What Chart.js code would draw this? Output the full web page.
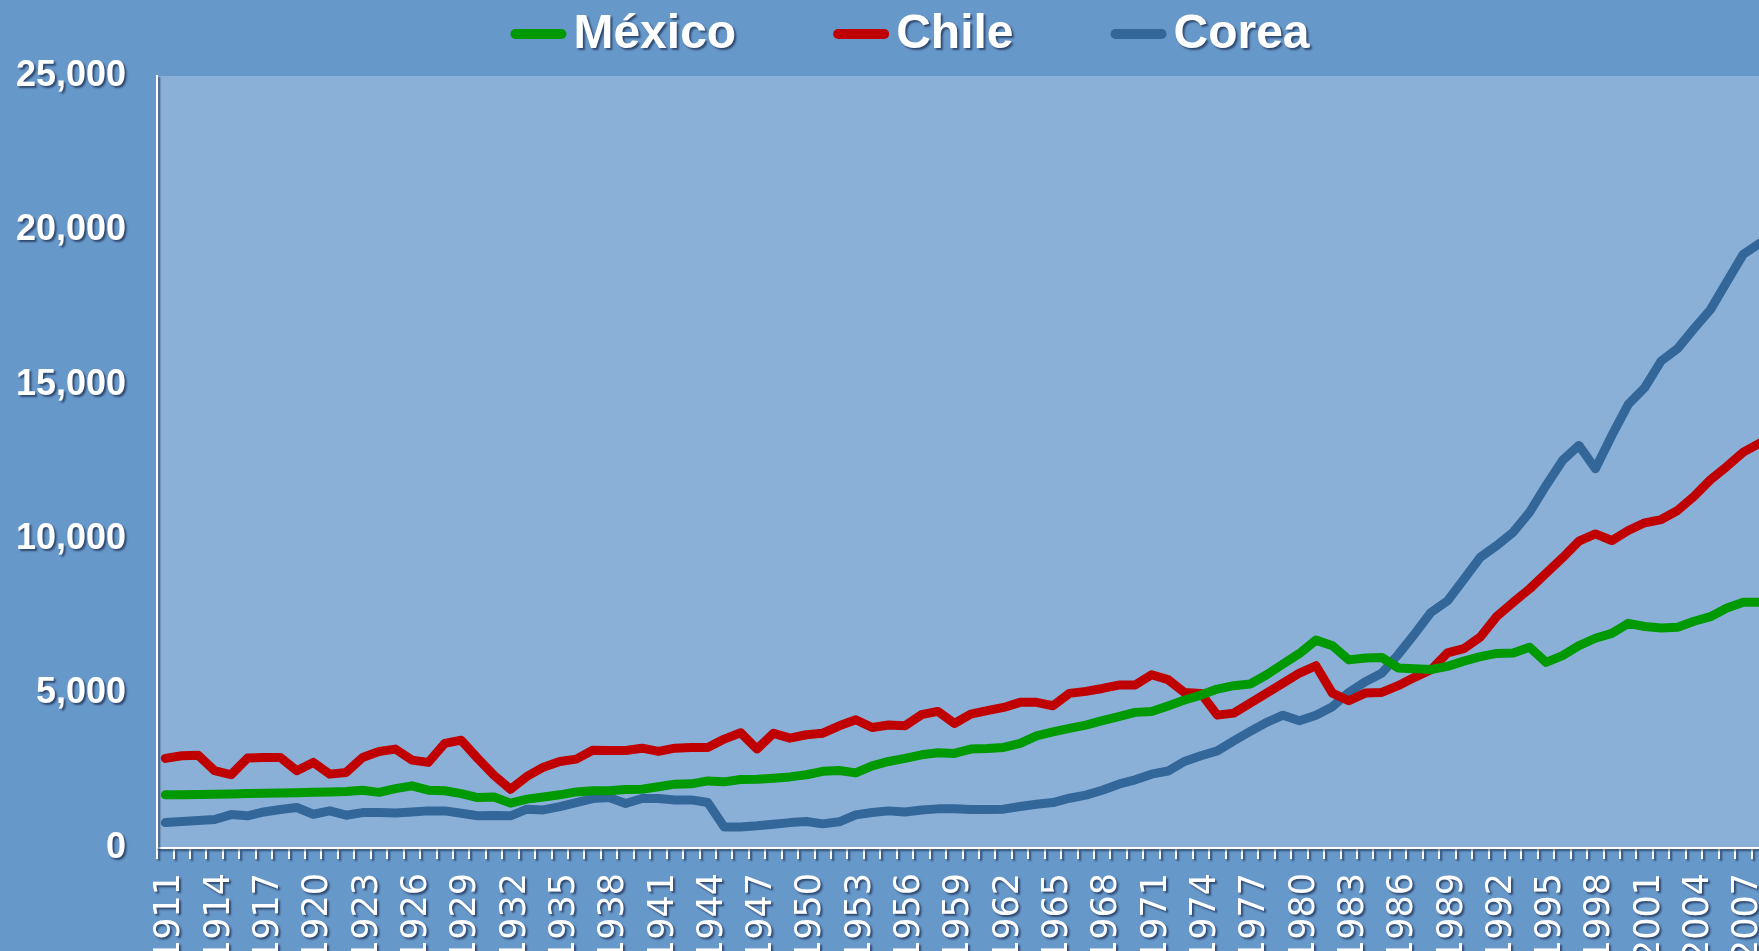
<!DOCTYPE html>
<html>
<head>
<meta charset="utf-8">
<script src="https://cdn.jsdelivr.net/npm/chart.js@4.4.1/dist/chart.umd.min.js"></script>
<style>
  html, body { margin: 0; padding: 0; overflow: hidden; background: #6798CA; }
  #wrap { position: absolute; left: 0; top: 0; width: 1816px; height: 980px; }
</style>
</head>
<body>
<div id="wrap"><canvas id="pibChart" width="1816" height="980"></canvas></div>
<script>
// ---- data (PIB per capita, 1911-2008) ----
const years = [];
for (let y = 1911; y <= 2008; y++) years.push(String(y));

const mexico = [
  1720, 1725, 1730, 1740, 1750, 1760, 1770, 1780, 1790,             // 1911-1919
  1805, 1815, 1825, 1870, 1800, 1920, 2010, 1870, 1850, 1760,       // 1920s
  1630, 1650, 1450, 1580, 1650, 1720, 1815, 1850, 1850, 1890,       // 1930s
  1900, 1980, 2065, 2075, 2170, 2140, 2215, 2225, 2260, 2300,       // 1940s
  2370, 2480, 2510, 2430, 2660, 2800, 2900, 3015, 3080, 3060,       // 1950s
  3200, 3220, 3255, 3385, 3630, 3760, 3870, 3980, 4120, 4250,       // 1960s
  4390, 4420, 4600, 4790, 4950, 5145, 5255, 5310, 5610, 5960,       // 1970s
  6300, 6730, 6550, 6090, 6150, 6170, 5830, 5800, 5780, 5880,       // 1980s
  6050, 6195, 6300, 6310, 6500, 6010, 6230, 6550, 6790, 6950,       // 1990s
  7275, 7170, 7125, 7145, 7340, 7490, 7770, 7955, 7960              // 2000-2008
];

const chile = [
  2900, 2985, 3005, 2500, 2370, 2910, 2930, 2930, 2500,
  2770, 2390, 2445, 2930, 3125, 3200, 2845, 2770, 3385, 3490,
  2900, 2350, 1900, 2315, 2615, 2800, 2875, 3165, 3155, 3155,
  3230, 3125, 3230, 3255, 3255, 3525, 3730, 3200, 3710, 3555,
  3665, 3715, 3955, 4150, 3900, 3980, 3955, 4315, 4420, 4030,
  4335, 4445, 4550, 4715, 4715, 4605, 5005, 5070, 5165, 5275,
  5275, 5610, 5450, 5035, 5005, 4300, 4365, 4690, 5015, 5340,
  5665, 5900, 5015, 4765, 5015, 5035, 5255, 5525, 5770, 6320,
  6455, 6830, 7500, 7955, 8390, 8895, 9395, 9935, 10170, 9955,
  10280, 10530, 10635, 10930, 11385, 11925, 12355, 12820, 13110
];

const corea = [
  820, 855, 885, 920, 1080, 1040, 1165, 1245, 1310,
  1090, 1200, 1060, 1145, 1145, 1135, 1165, 1200, 1200, 1125,
  1040, 1050, 1040, 1255, 1230, 1340, 1470, 1600, 1630, 1440,
  1600, 1600, 1555, 1555, 1470, 680, 680, 715, 770, 820,
  855, 780, 845, 1070, 1145, 1200, 1165, 1230, 1265, 1265,
  1245, 1245, 1255, 1340, 1415, 1470, 1610, 1710, 1870, 2065,
  2205, 2390, 2490, 2800, 2985, 3145, 3470, 3775, 4065, 4300,
  4120, 4300, 4575, 5035, 5385, 5655, 6260, 6930, 7630, 8000,
  8700, 9415, 9795, 10225, 10875, 11740, 12550, 13035, 12280, 13360,
  14365, 14905, 15770, 16170, 16820, 17435, 18335, 19230, 19580
];

const yTicks = [0, 5000, 10000, 15000, 20000, 25000];

const colors = {
  page: '#6798CA',
  plot: '#8BB0D8',
  green: '#009900',
  red: '#C00000',
  blue: '#336699',
  white: '#FFFFFF',
  shadow: 'rgba(10, 20, 50, 0.6)'
};

function setShadow(ctx) {
  ctx.shadowColor = colors.shadow;
  ctx.shadowOffsetX = 2;
  ctx.shadowOffsetY = 2;
  ctx.shadowBlur = 2;
}
function clearShadow(ctx) {
  ctx.shadowColor = 'rgba(0,0,0,0)';
  ctx.shadowOffsetX = 0;
  ctx.shadowOffsetY = 0;
  ctx.shadowBlur = 0;
}

// plot background + shadow on axis text
const plotBg = {
  id: 'plotBg',
  beforeDraw(chart) {
    const { ctx, chartArea: a } = chart;
    ctx.save();
    ctx.fillStyle = colors.plot;
    ctx.fillRect(a.left, a.top, a.right - a.left, a.bottom - a.top);
    ctx.restore();
    setShadow(ctx);
  },
  beforeDatasetsDraw(chart) {
    clearShadow(chart.ctx);
  }
};

// legend drawn by hand: short rounded line + bold label
const topLegend = {
  id: 'topLegend',
  afterDraw(chart) {
    const ctx = chart.ctx;
    const font = 'bold 48px "Liberation Sans", Arial, sans-serif';
    const mark = 46, gapText = 11, gapItem = 97, cy = 34;
    ctx.save();
    ctx.font = font;
    const items = chart.data.datasets.map(ds => ({
      text: ds.label, color: ds.borderColor, w: ctx.measureText(ds.label).width
    }));
    const total = items.reduce((s, it) => s + mark + 6 + gapText + it.w, 0) + gapItem * (items.length - 1);
    let x = 910 - total / 2;
    items.forEach(it => {
      clearShadow(ctx);
      ctx.strokeStyle = it.color;
      ctx.lineWidth = 10;
      ctx.lineCap = 'round';
      ctx.beginPath();
      ctx.moveTo(x + 5, cy);
      ctx.lineTo(x + 5 + mark, cy);
      ctx.stroke();
      x += mark + 6 + gapText;
      setShadow(ctx);
      ctx.fillStyle = colors.white;
      ctx.textAlign = 'left';
      ctx.textBaseline = 'middle';
      ctx.fillText(it.text, x, cy + 1);
      x += it.w + gapItem;
    });
    ctx.restore();
  }
};

const lineStyle = {
  borderWidth: 9,
  pointRadius: 0,
  pointHoverRadius: 0,
  tension: 0,
  fill: false,
  borderJoinStyle: 'round',
  borderCapStyle: 'round'
};

new Chart(document.getElementById('pibChart').getContext('2d'), {
  type: 'line',
  data: {
    labels: years,
    datasets: [
      { label: 'México', data: mexico, borderColor: colors.green, ...lineStyle },
      { label: 'Chile', data: chile, borderColor: colors.red, ...lineStyle },
      { label: 'Corea', data: corea, borderColor: colors.blue, ...lineStyle }
    ]
  },
  options: {
    responsive: false,
    animation: false,
    layout: { padding: { left: -15, right: 46, top: 76, bottom: 4 } },
    plugins: {
      legend: { display: false },
      tooltip: { enabled: false }
    },
    scales: {
      x: {
        offset: true,
        grid: {
          offset: true,
          drawOnChartArea: false,
          drawTicks: true,
          tickLength: 11,
          color: colors.white,
          lineWidth: 2
        },
        border: { display: true, color: colors.white, width: 2 },
        ticks: {
          autoSkip: false,
          maxRotation: 90,
          minRotation: 90,
          padding: 14,
          labelOffset: 5,
          color: colors.white,
          font: { family: '"DejaVu Sans", Verdana, sans-serif', size: 35 },
          callback: function (val, i) {
            return i % 3 === 0 ? this.getLabelForValue(val) : '';
          }
        }
      },
      y: {
        min: 0,
        max: 25000,
        afterBuildTicks: (scale) => { scale.ticks = yTicks.map(v => ({ value: v })); },
        grid: { drawOnChartArea: false, drawTicks: false },
        border: { display: true, color: colors.white, width: 2 },
        ticks: {
          padding: 31,
          color: colors.white,
          font: { family: '"Liberation Sans", Arial, sans-serif', size: 36, weight: 'bold' },
          callback: (v) => v.toLocaleString('en-US')
        }
      }
    }
  },
  plugins: [plotBg, topLegend]
});
</script>
</body>
</html>
